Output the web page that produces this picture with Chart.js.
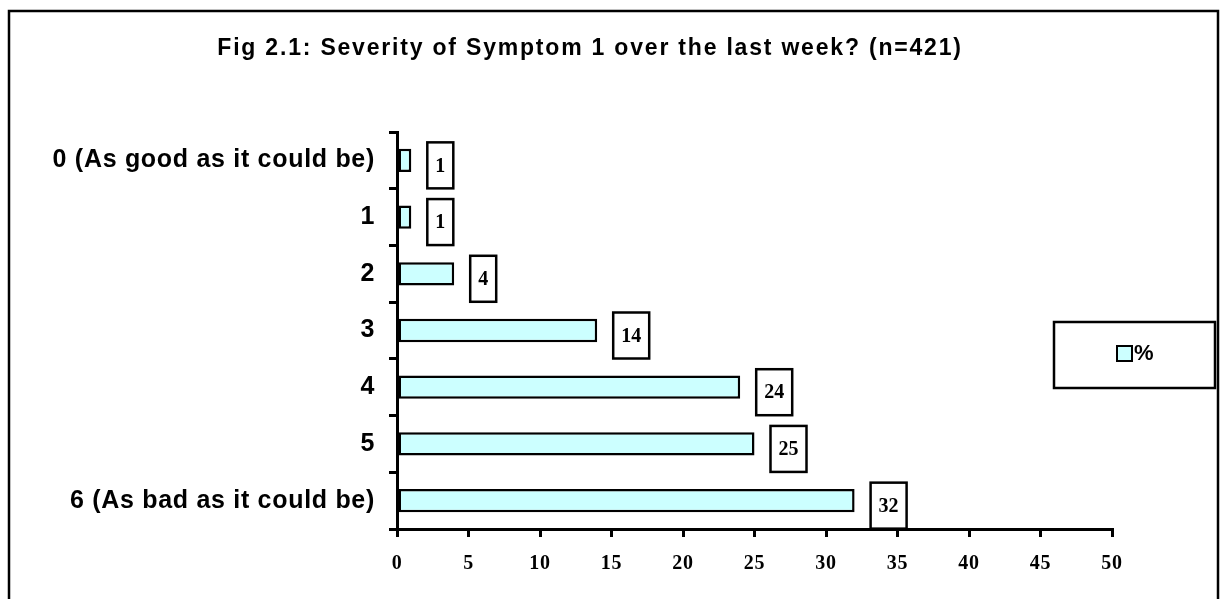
<!DOCTYPE html>
<html>
<head>
<meta charset="utf-8">
<script src="https://cdn.jsdelivr.net/npm/chart.js@4.4.0/dist/chart.umd.min.js"></script>
<style>
  body { margin: 0; background: #fff; }
  canvas { display: block; }
</style>
</head>
<body>
<canvas id="myChart" width="1220" height="599"></canvas>
<script>
const naslov = "Fig 2.1: Severity of Symptom 1 over the last week? (n=421)";
const kategorije = ["0 (As good as it could be)", "1", "2", "3", "4", "5", "6 (As bad as it could be)"];
const postotci = [1, 1, 4, 14, 24, 25, 32];
const oznakaSerije = "%";
const xTickovi = [0, 5, 10, 15, 20, 25, 30, 35, 40, 45, 50];

// razmak slova za tekst osi
const razmakSlova = {
    id: 'razmakSlova',
    beforeDraw(chart) {
        chart.ctx.letterSpacing = '0.7px';
    }
};

// okvir, naslov, legenda i kutije s vrijednostima
const crtanjeDodataka = {
    id: 'crtanjeDodataka',
    afterDraw(chart) {
        const ctx = chart.ctx;
        ctx.save();
        // vanjski okvir
        ctx.strokeStyle = '#000';
        ctx.lineWidth = 2.5;
        ctx.strokeRect(9, 11, 1209, 620);

        // naslov
        ctx.fillStyle = '#000';
        ctx.letterSpacing = '1.8px';
        ctx.font = 'bold 23px "Liberation Sans", Arial, sans-serif';
        ctx.textAlign = 'center';
        ctx.textBaseline = 'middle';
        ctx.fillText(naslov, 590, 49);
        ctx.letterSpacing = '0px';

        // legenda
        const ds = chart.data.datasets[0];
        ctx.lineWidth = 2.5;
        ctx.strokeRect(1054, 322, 161, 66);
        ctx.fillStyle = ds.backgroundColor;
        ctx.fillRect(1117, 346, 15, 15);
        ctx.lineWidth = 2;
        ctx.strokeRect(1117, 346, 15, 15);
        ctx.fillStyle = '#000';
        ctx.font = 'bold 22px "Liberation Sans", Arial, sans-serif';
        ctx.textAlign = 'left';
        ctx.fillText(ds.label, 1134, 354);

        // kutije s vrijednostima
        const meta = chart.getDatasetMeta(0);
        ctx.font = 'bold 20px "Liberation Serif", "Times New Roman", serif';
        meta.data.forEach((bar, i) => {
            const tekst = String(ds.data[i]);
            const w = ctx.measureText(tekst).width + 16;
            const h = 46;
            const x = bar.x + 16;
            const y = bar.y + 5 - h / 2;
            ctx.fillStyle = '#fff';
            ctx.fillRect(x, y, w, h);
            ctx.strokeStyle = '#000';
            ctx.lineWidth = 2.5;
            ctx.strokeRect(x, y, w, h);
            ctx.fillStyle = '#000';
            ctx.textAlign = 'center';
            ctx.fillText(tekst, x + w / 2, y + h / 2 + 1);
        });
        ctx.restore();
    }
};

const ctx = document.getElementById('myChart');
const myChart = new Chart(ctx, {
    type: 'bar',
    data: {
        labels: kategorije,
        datasets: [{
            label: oznakaSerije,
            data: postotci,
            backgroundColor: '#CCFFFF',
            borderColor: '#000',
            borderWidth: 2.5,
            borderSkipped: false,
            categoryPercentage: 1,
            barPercentage: 0.41
        }]
    },
    options: {
        indexAxis: 'y',
        responsive: false,
        animation: false,
        layout: { padding: { top: 132, right: 108, bottom: 0, left: 0 } },
        plugins: {
            legend: { display: false },
            title: { display: false },
            tooltip: { enabled: false }
        },
        scales: {
            x: {
                min: 0,
                max: 50,
                afterFit: s => { s.height = 70; },
                afterBuildTicks: s => { s.ticks = xTickovi.map(v => ({ value: v })); },
                border: { color: '#000', width: 3 },
                grid: { drawOnChartArea: false, color: '#000', lineWidth: 3, tickLength: 8 },
                ticks: {
                    color: '#000',
                    padding: 15,
                    maxRotation: 0,
                    font: { family: '"Liberation Serif", "Times New Roman", serif', size: 20, weight: 'bold' }
                }
            },
            y: {
                afterFit: s => { s.width = 397; },
                border: { color: '#000', width: 3 },
                grid: { drawOnChartArea: false, color: '#000', lineWidth: 3, tickLength: 8, offset: true },
                ticks: {
                    color: '#000',
                    padding: 14,
                    font: { family: '"Liberation Sans", Arial, sans-serif', size: 25, weight: 'bold' }
                }
            }
        }
    },
    plugins: [razmakSlova, crtanjeDodataka]
});
</script>
</body>
</html>
